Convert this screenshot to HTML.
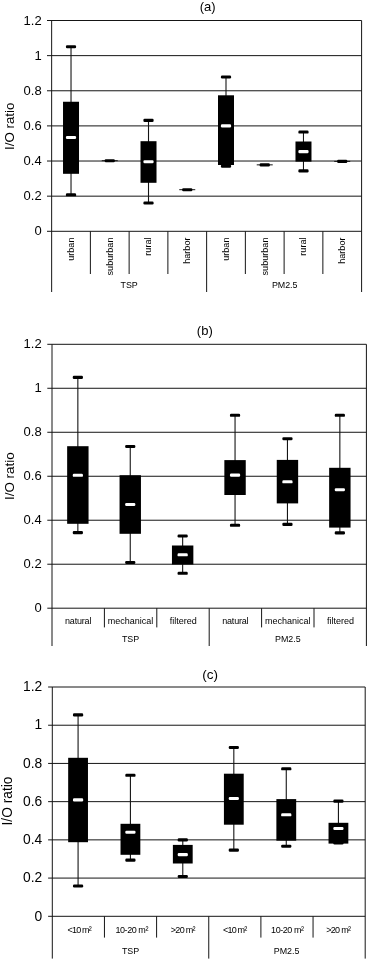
<!DOCTYPE html>
<html><head><meta charset="utf-8"><title>I/O ratio box plots</title>
<style>
html,body{margin:0;padding:0;background:#fff;}
svg{display:block;}
text{font-family:"Liberation Sans",Arial,sans-serif;fill:#000;}
</style></head><body>
<svg width="368" height="961" viewBox="0 0 368 961">
<rect width="368" height="961" fill="#fff"/>
<line x1="47.00" y1="20.50" x2="361.60" y2="20.50" stroke="#151515" stroke-width="1"/>
<text x="41.70" y="24.60" font-size="13" text-anchor="end">1.2</text>
<line x1="47.00" y1="55.63" x2="361.60" y2="55.63" stroke="#151515" stroke-width="1"/>
<text x="41.70" y="59.73" font-size="13" text-anchor="end">1</text>
<line x1="47.00" y1="90.77" x2="361.60" y2="90.77" stroke="#151515" stroke-width="1"/>
<text x="41.70" y="94.87" font-size="13" text-anchor="end">0.8</text>
<line x1="47.00" y1="125.90" x2="361.60" y2="125.90" stroke="#151515" stroke-width="1"/>
<text x="41.70" y="130.00" font-size="13" text-anchor="end">0.6</text>
<line x1="47.00" y1="161.03" x2="361.60" y2="161.03" stroke="#151515" stroke-width="1"/>
<text x="41.70" y="165.13" font-size="13" text-anchor="end">0.4</text>
<line x1="47.00" y1="196.17" x2="361.60" y2="196.17" stroke="#151515" stroke-width="1"/>
<text x="41.70" y="200.27" font-size="13" text-anchor="end">0.2</text>
<line x1="47.00" y1="231.30" x2="361.60" y2="231.30" stroke="#151515" stroke-width="1"/>
<text x="41.70" y="235.40" font-size="13" text-anchor="end">0</text>
<line x1="51.65" y1="20.50" x2="51.65" y2="292.00" stroke="#151515" stroke-width="1"/>
<line x1="361.60" y1="20.50" x2="361.60" y2="292.00" stroke="#151515" stroke-width="1"/>
<line x1="90.39" y1="231.30" x2="90.39" y2="274.00" stroke="#151515" stroke-width="1"/>
<line x1="129.14" y1="231.30" x2="129.14" y2="274.00" stroke="#151515" stroke-width="1"/>
<line x1="167.88" y1="231.30" x2="167.88" y2="274.00" stroke="#151515" stroke-width="1"/>
<line x1="206.63" y1="231.30" x2="206.63" y2="292.00" stroke="#151515" stroke-width="1"/>
<line x1="245.37" y1="231.30" x2="245.37" y2="274.00" stroke="#151515" stroke-width="1"/>
<line x1="284.11" y1="231.30" x2="284.11" y2="274.00" stroke="#151515" stroke-width="1"/>
<line x1="322.86" y1="231.30" x2="322.86" y2="274.00" stroke="#151515" stroke-width="1"/>
<text x="207.70" y="10.80" font-size="13" text-anchor="middle">(a)</text>
<text x="14.40" y="126.30" font-size="13.3" text-anchor="middle" transform="rotate(-90 14.40 126.30)">I/O ratio</text>
<text x="73.92" y="237.50" font-size="9.1" text-anchor="end" transform="rotate(-90 73.92 237.50)">urban</text>
<text x="112.67" y="237.50" font-size="9.1" text-anchor="end" transform="rotate(-90 112.67 237.50)">suburban</text>
<text x="151.41" y="237.50" font-size="9.1" text-anchor="end" transform="rotate(-90 151.41 237.50)">rural</text>
<text x="190.15" y="237.50" font-size="9.1" text-anchor="end" transform="rotate(-90 190.15 237.50)">harbor</text>
<text x="228.90" y="237.50" font-size="9.1" text-anchor="end" transform="rotate(-90 228.90 237.50)">urban</text>
<text x="267.64" y="237.50" font-size="9.1" text-anchor="end" transform="rotate(-90 267.64 237.50)">suburban</text>
<text x="306.38" y="237.50" font-size="9.1" text-anchor="end" transform="rotate(-90 306.38 237.50)">rural</text>
<text x="345.13" y="237.50" font-size="9.1" text-anchor="end" transform="rotate(-90 345.13 237.50)">harbor</text>
<text x="129.14" y="288.30" font-size="8.9" text-anchor="middle">TSP</text>
<text x="284.71" y="288.30" font-size="8.9" text-anchor="middle">PM2.5</text>
<line x1="71.02" y1="46.75" x2="71.02" y2="194.80" stroke="#151515" stroke-width="1.1"/>
<rect x="65.92" y="45.20" width="10.20" height="3.10" fill="#000" rx="1.2"/>
<rect x="65.92" y="193.25" width="10.20" height="3.10" fill="#000" rx="1.2"/>
<rect x="63.02" y="101.75" width="16.00" height="72.05" fill="#000"/>
<rect x="65.92" y="135.95" width="10.20" height="3.10" fill="#fff" rx="1.2"/>
<line x1="101.77" y1="160.70" x2="117.77" y2="160.70" stroke="#151515" stroke-width="1"/>
<rect x="104.67" y="159.15" width="10.20" height="3.10" fill="#000" rx="1.2"/>
<line x1="148.51" y1="120.40" x2="148.51" y2="203.00" stroke="#151515" stroke-width="1.1"/>
<rect x="143.41" y="118.85" width="10.20" height="3.10" fill="#000" rx="1.2"/>
<rect x="143.41" y="201.45" width="10.20" height="3.10" fill="#000" rx="1.2"/>
<rect x="140.51" y="141.20" width="16.00" height="41.60" fill="#000"/>
<rect x="143.41" y="160.15" width="10.20" height="3.10" fill="#fff" rx="1.2"/>
<line x1="179.25" y1="189.70" x2="195.25" y2="189.70" stroke="#151515" stroke-width="1"/>
<rect x="182.15" y="188.15" width="10.20" height="3.10" fill="#000" rx="1.2"/>
<line x1="226.00" y1="77.00" x2="226.00" y2="166.20" stroke="#151515" stroke-width="1.1"/>
<rect x="220.90" y="75.45" width="10.20" height="3.10" fill="#000" rx="1.2"/>
<rect x="220.90" y="164.65" width="10.20" height="3.10" fill="#000" rx="1.2"/>
<rect x="218.00" y="95.30" width="16.00" height="69.70" fill="#000"/>
<rect x="220.90" y="124.35" width="10.20" height="3.10" fill="#fff" rx="1.2"/>
<line x1="256.74" y1="164.85" x2="272.74" y2="164.85" stroke="#151515" stroke-width="1"/>
<rect x="259.64" y="163.30" width="10.20" height="3.10" fill="#000" rx="1.2"/>
<line x1="303.48" y1="132.05" x2="303.48" y2="170.85" stroke="#151515" stroke-width="1.1"/>
<rect x="298.38" y="130.50" width="10.20" height="3.10" fill="#000" rx="1.2"/>
<rect x="298.38" y="169.30" width="10.20" height="3.10" fill="#000" rx="1.2"/>
<rect x="295.48" y="141.50" width="16.00" height="20.15" fill="#000"/>
<rect x="298.38" y="150.10" width="10.20" height="3.10" fill="#fff" rx="1.2"/>
<line x1="334.23" y1="161.40" x2="350.23" y2="161.40" stroke="#151515" stroke-width="1"/>
<rect x="337.13" y="159.85" width="10.20" height="3.10" fill="#000" rx="1.2"/>
<line x1="47.30" y1="344.30" x2="366.40" y2="344.30" stroke="#151515" stroke-width="1"/>
<text x="41.70" y="348.40" font-size="13" text-anchor="end">1.2</text>
<line x1="47.30" y1="388.28" x2="366.40" y2="388.28" stroke="#151515" stroke-width="1"/>
<text x="41.70" y="392.38" font-size="13" text-anchor="end">1</text>
<line x1="47.30" y1="432.27" x2="366.40" y2="432.27" stroke="#151515" stroke-width="1"/>
<text x="41.70" y="436.37" font-size="13" text-anchor="end">0.8</text>
<line x1="47.30" y1="476.25" x2="366.40" y2="476.25" stroke="#151515" stroke-width="1"/>
<text x="41.70" y="480.35" font-size="13" text-anchor="end">0.6</text>
<line x1="47.30" y1="520.23" x2="366.40" y2="520.23" stroke="#151515" stroke-width="1"/>
<text x="41.70" y="524.33" font-size="13" text-anchor="end">0.4</text>
<line x1="47.30" y1="564.22" x2="366.40" y2="564.22" stroke="#151515" stroke-width="1"/>
<text x="41.70" y="568.32" font-size="13" text-anchor="end">0.2</text>
<line x1="47.30" y1="608.20" x2="366.40" y2="608.20" stroke="#151515" stroke-width="1"/>
<text x="41.70" y="612.30" font-size="13" text-anchor="end">0</text>
<line x1="52.00" y1="344.30" x2="52.00" y2="646.00" stroke="#151515" stroke-width="1"/>
<line x1="366.40" y1="344.30" x2="366.40" y2="646.00" stroke="#151515" stroke-width="1"/>
<line x1="104.40" y1="608.20" x2="104.40" y2="627.40" stroke="#151515" stroke-width="1"/>
<line x1="156.80" y1="608.20" x2="156.80" y2="627.40" stroke="#151515" stroke-width="1"/>
<line x1="209.20" y1="608.20" x2="209.20" y2="646.00" stroke="#151515" stroke-width="1"/>
<line x1="261.60" y1="608.20" x2="261.60" y2="627.40" stroke="#151515" stroke-width="1"/>
<line x1="314.00" y1="608.20" x2="314.00" y2="627.40" stroke="#151515" stroke-width="1"/>
<text x="204.80" y="335.00" font-size="13" text-anchor="middle">(b)</text>
<text x="14.30" y="476.20" font-size="13.4" text-anchor="middle" transform="rotate(-90 14.30 476.20)">I/O ratio</text>
<text x="65.00" y="623.80" font-size="9" text-anchor="start" textLength="26.4" lengthAdjust="spacing">natural</text>
<text x="130.60" y="623.80" font-size="9" text-anchor="middle">mechanical</text>
<text x="183.30" y="623.80" font-size="9" text-anchor="middle">filtered</text>
<text x="222.20" y="623.80" font-size="9" text-anchor="start" textLength="26.4" lengthAdjust="spacing">natural</text>
<text x="287.80" y="623.80" font-size="9" text-anchor="middle">mechanical</text>
<text x="340.50" y="623.80" font-size="9" text-anchor="middle">filtered</text>
<text x="130.60" y="641.50" font-size="8.9" text-anchor="middle">TSP</text>
<text x="287.80" y="641.50" font-size="8.9" text-anchor="middle">PM2.5</text>
<line x1="77.85" y1="377.40" x2="77.85" y2="532.60" stroke="#151515" stroke-width="1.1"/>
<rect x="72.75" y="375.85" width="10.20" height="3.10" fill="#000" rx="1.2"/>
<rect x="72.75" y="531.05" width="10.20" height="3.10" fill="#000" rx="1.2"/>
<rect x="67.15" y="446.20" width="21.40" height="77.60" fill="#000"/>
<rect x="72.75" y="473.75" width="10.20" height="3.10" fill="#fff" rx="1.2"/>
<line x1="130.25" y1="446.50" x2="130.25" y2="562.50" stroke="#151515" stroke-width="1.1"/>
<rect x="125.15" y="444.95" width="10.20" height="3.10" fill="#000" rx="1.2"/>
<rect x="125.15" y="560.95" width="10.20" height="3.10" fill="#000" rx="1.2"/>
<rect x="119.55" y="475.20" width="21.40" height="58.60" fill="#000"/>
<rect x="125.15" y="502.95" width="10.20" height="3.10" fill="#fff" rx="1.2"/>
<line x1="182.65" y1="536.00" x2="182.65" y2="573.30" stroke="#151515" stroke-width="1.1"/>
<rect x="177.55" y="534.45" width="10.20" height="3.10" fill="#000" rx="1.2"/>
<rect x="177.55" y="571.75" width="10.20" height="3.10" fill="#000" rx="1.2"/>
<rect x="171.95" y="545.50" width="21.40" height="19.00" fill="#000"/>
<rect x="177.55" y="553.25" width="10.20" height="3.10" fill="#fff" rx="1.2"/>
<line x1="235.05" y1="415.30" x2="235.05" y2="525.30" stroke="#151515" stroke-width="1.1"/>
<rect x="229.95" y="413.75" width="10.20" height="3.10" fill="#000" rx="1.2"/>
<rect x="229.95" y="523.75" width="10.20" height="3.10" fill="#000" rx="1.2"/>
<rect x="224.35" y="460.10" width="21.40" height="34.90" fill="#000"/>
<rect x="229.95" y="473.55" width="10.20" height="3.10" fill="#fff" rx="1.2"/>
<line x1="287.45" y1="438.70" x2="287.45" y2="524.40" stroke="#151515" stroke-width="1.1"/>
<rect x="282.35" y="437.15" width="10.20" height="3.10" fill="#000" rx="1.2"/>
<rect x="282.35" y="522.85" width="10.20" height="3.10" fill="#000" rx="1.2"/>
<rect x="276.75" y="459.90" width="21.40" height="43.50" fill="#000"/>
<rect x="282.35" y="480.25" width="10.20" height="3.10" fill="#fff" rx="1.2"/>
<line x1="339.85" y1="415.30" x2="339.85" y2="532.90" stroke="#151515" stroke-width="1.1"/>
<rect x="334.75" y="413.75" width="10.20" height="3.10" fill="#000" rx="1.2"/>
<rect x="334.75" y="531.35" width="10.20" height="3.10" fill="#000" rx="1.2"/>
<rect x="329.15" y="467.80" width="21.40" height="59.80" fill="#000"/>
<rect x="334.75" y="488.15" width="10.20" height="3.10" fill="#fff" rx="1.2"/>
<line x1="48.10" y1="687.00" x2="365.20" y2="687.00" stroke="#151515" stroke-width="1"/>
<text x="42.20" y="691.20" font-size="13.8" text-anchor="end">1.2</text>
<line x1="48.10" y1="725.22" x2="365.20" y2="725.22" stroke="#151515" stroke-width="1"/>
<text x="42.20" y="729.42" font-size="13.8" text-anchor="end">1</text>
<line x1="48.10" y1="763.43" x2="365.20" y2="763.43" stroke="#151515" stroke-width="1"/>
<text x="42.20" y="767.63" font-size="13.8" text-anchor="end">0.8</text>
<line x1="48.10" y1="801.65" x2="365.20" y2="801.65" stroke="#151515" stroke-width="1"/>
<text x="42.20" y="805.85" font-size="13.8" text-anchor="end">0.6</text>
<line x1="48.10" y1="839.87" x2="365.20" y2="839.87" stroke="#151515" stroke-width="1"/>
<text x="42.20" y="844.07" font-size="13.8" text-anchor="end">0.4</text>
<line x1="48.10" y1="878.08" x2="365.20" y2="878.08" stroke="#151515" stroke-width="1"/>
<text x="42.20" y="882.28" font-size="13.8" text-anchor="end">0.2</text>
<line x1="48.10" y1="916.30" x2="365.20" y2="916.30" stroke="#151515" stroke-width="1"/>
<text x="42.20" y="920.50" font-size="13.8" text-anchor="end">0</text>
<line x1="52.30" y1="687.00" x2="52.30" y2="958.60" stroke="#151515" stroke-width="1"/>
<line x1="365.20" y1="687.00" x2="365.20" y2="958.60" stroke="#151515" stroke-width="1"/>
<line x1="104.45" y1="916.30" x2="104.45" y2="937.60" stroke="#151515" stroke-width="1"/>
<line x1="156.60" y1="916.30" x2="156.60" y2="937.60" stroke="#151515" stroke-width="1"/>
<line x1="208.75" y1="916.30" x2="208.75" y2="958.60" stroke="#151515" stroke-width="1"/>
<line x1="260.90" y1="916.30" x2="260.90" y2="937.60" stroke="#151515" stroke-width="1"/>
<line x1="313.05" y1="916.30" x2="313.05" y2="937.60" stroke="#151515" stroke-width="1"/>
<text x="210.20" y="679.10" font-size="13.5" text-anchor="middle">(c)</text>
<text x="11.60" y="801.00" font-size="13.8" text-anchor="middle" transform="rotate(-90 11.60 801.00)">I/O ratio</text>
<text x="67.52" y="932.80" font-size="9" text-anchor="start" textLength="24.3" lengthAdjust="spacing">&lt;10 m²</text>
<text x="115.42" y="932.80" font-size="9" text-anchor="start" textLength="33" lengthAdjust="spacing">10-20 m²</text>
<text x="170.78" y="932.80" font-size="9" text-anchor="start" textLength="24.8" lengthAdjust="spacing">&gt;20 m²</text>
<text x="222.97" y="932.80" font-size="9" text-anchor="start" textLength="24.3" lengthAdjust="spacing">&lt;10 m²</text>
<text x="271.07" y="932.80" font-size="9" text-anchor="start" textLength="33" lengthAdjust="spacing">10-20 m²</text>
<text x="326.23" y="932.80" font-size="9" text-anchor="start" textLength="24.8" lengthAdjust="spacing">&gt;20 m²</text>
<text x="130.52" y="954.00" font-size="8.9" text-anchor="middle">TSP</text>
<text x="286.57" y="954.00" font-size="8.9" text-anchor="middle">PM2.5</text>
<line x1="78.08" y1="714.90" x2="78.08" y2="886.00" stroke="#151515" stroke-width="1.1"/>
<rect x="72.98" y="713.35" width="10.20" height="3.10" fill="#000" rx="1.2"/>
<rect x="72.98" y="884.45" width="10.20" height="3.10" fill="#000" rx="1.2"/>
<rect x="68.17" y="757.80" width="19.80" height="84.40" fill="#000"/>
<rect x="72.98" y="798.35" width="10.20" height="3.10" fill="#fff" rx="1.2"/>
<line x1="130.42" y1="775.30" x2="130.42" y2="860.10" stroke="#151515" stroke-width="1.1"/>
<rect x="125.32" y="773.75" width="10.20" height="3.10" fill="#000" rx="1.2"/>
<rect x="125.32" y="858.55" width="10.20" height="3.10" fill="#000" rx="1.2"/>
<rect x="120.52" y="823.80" width="19.80" height="31.00" fill="#000"/>
<rect x="125.32" y="830.65" width="10.20" height="3.10" fill="#fff" rx="1.2"/>
<line x1="182.78" y1="839.90" x2="182.78" y2="876.50" stroke="#151515" stroke-width="1.1"/>
<rect x="177.68" y="838.35" width="10.20" height="3.10" fill="#000" rx="1.2"/>
<rect x="177.68" y="874.95" width="10.20" height="3.10" fill="#000" rx="1.2"/>
<rect x="172.88" y="844.90" width="19.80" height="18.60" fill="#000"/>
<rect x="177.68" y="853.05" width="10.20" height="3.10" fill="#fff" rx="1.2"/>
<line x1="233.82" y1="747.50" x2="233.82" y2="850.10" stroke="#151515" stroke-width="1.1"/>
<rect x="228.72" y="745.95" width="10.20" height="3.10" fill="#000" rx="1.2"/>
<rect x="228.72" y="848.55" width="10.20" height="3.10" fill="#000" rx="1.2"/>
<rect x="223.92" y="773.70" width="19.80" height="51.00" fill="#000"/>
<rect x="228.72" y="796.95" width="10.20" height="3.10" fill="#fff" rx="1.2"/>
<line x1="286.27" y1="768.80" x2="286.27" y2="846.20" stroke="#151515" stroke-width="1.1"/>
<rect x="281.17" y="767.25" width="10.20" height="3.10" fill="#000" rx="1.2"/>
<rect x="281.17" y="844.65" width="10.20" height="3.10" fill="#000" rx="1.2"/>
<rect x="276.38" y="799.10" width="19.80" height="41.60" fill="#000"/>
<rect x="281.17" y="813.25" width="10.20" height="3.10" fill="#fff" rx="1.2"/>
<line x1="338.43" y1="801.10" x2="338.43" y2="843.00" stroke="#151515" stroke-width="1.1"/>
<rect x="333.32" y="799.55" width="10.20" height="3.10" fill="#000" rx="1.2"/>
<rect x="333.32" y="841.45" width="10.20" height="3.10" fill="#000" rx="1.2"/>
<rect x="328.53" y="822.80" width="19.80" height="20.80" fill="#000"/>
<rect x="333.32" y="826.95" width="10.20" height="3.10" fill="#fff" rx="1.2"/>
</svg>
</body></html>
